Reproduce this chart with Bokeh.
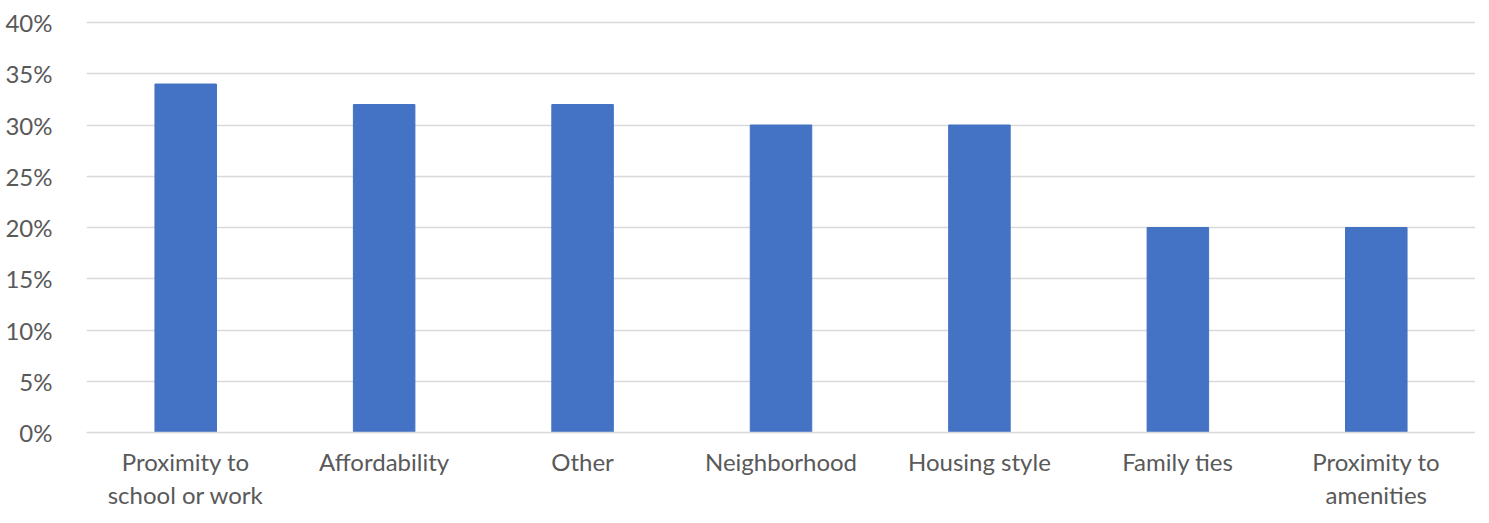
from bokeh.plotting import figure
from bokeh.models import Range1d, FixedTicker, NumeralTickFormatter
from bokeh.embed import file_html
from bokeh.resources import INLINE

categories = ["Proximity to school or work", "Affordability", "Other", "Neighborhood",
              "Housing style", "Family ties", "Proximity to amenities"]
values = [0.34, 0.32, 0.32, 0.30, 0.30, 0.20, 0.20]
y_ticks = [0, 0.05, 0.10, 0.15, 0.20, 0.25, 0.30, 0.35, 0.40]
wrapped = {
    "Proximity to school or work": "Proximity to\nschool or work",
    "Proximity to amenities": "Proximity to\namenities",
}
factors = [wrapped.get(c, c) for c in categories]

p = figure(x_range=factors, width=1475, height=511, output_backend="svg",
           toolbar_location=None, min_border_left=86, min_border_right=0,
           min_border_top=20, min_border_bottom=76)
p.y_range = Range1d(0, 0.402)
p.vbar(x=factors, top=values, width=0.31, color="#4472C4")

p.outline_line_color = None
p.background_fill_color = "white"
p.border_fill_color = "white"

p.xgrid.grid_line_color = None
p.ygrid.grid_line_color = "#D9D9D9"
p.ygrid.grid_line_width = 1.5
p.yaxis.ticker = FixedTicker(ticks=y_ticks)
p.yaxis.formatter = NumeralTickFormatter(format="0%")
p.yaxis.axis_line_color = None
p.yaxis.major_tick_line_color = None
p.yaxis.minor_tick_line_color = None
p.yaxis.major_label_standoff = 28
p.yaxis.major_label_text_font = "Lato"
p.yaxis.major_label_text_font_size = "24px"
p.yaxis.major_label_text_color = "#595959"

p.xaxis.axis_line_color = "#D9D9D9"
p.xaxis.axis_line_width = 1.5
p.xaxis.major_tick_line_color = None
p.xaxis.minor_tick_line_color = None
p.xaxis.major_label_standoff = 8
p.xaxis.major_label_text_font = "Lato"
p.xaxis.major_label_text_font_size = "24px"
p.xaxis.major_label_text_color = "#595959"
p.xaxis.major_label_text_line_height = 1.15

open("out.html", "w").write(file_html(p, INLINE))
